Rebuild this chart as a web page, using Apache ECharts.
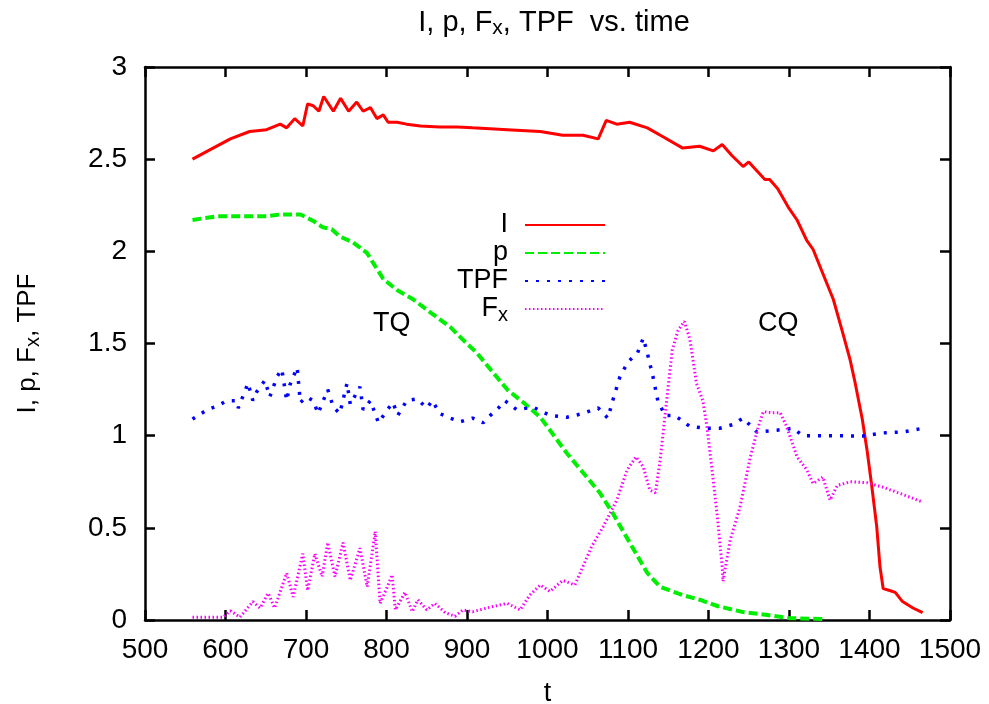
<!DOCTYPE html>
<html>
<head>
<meta charset="utf-8">
<script src="https://cdn.jsdelivr.net/npm/echarts@6/dist/echarts.min.js"></script>
<style>
html, body { margin: 0; padding: 0; background: #fff; }
#main { width: 989px; height: 704px; }
</style>
</head>
<body>
<div id="main"></div>
<script>
// data: time values and curve values per series
var iT = [559, 606, 630, 651, 668, 676, 686, 696, 702, 709, 716, 722, 734, 743, 753, 763, 771, 780, 788, 796, 802, 813, 825, 842, 866, 888, 907, 950, 991, 1019, 1044, 1063, 1073, 1086, 1102, 1124, 1144, 1168, 1189, 1206, 1217, 1229, 1243, 1250, 1270, 1276, 1286, 1299, 1310, 1322, 1330, 1342, 1355, 1366, 1376, 1382, 1391, 1397, 1403, 1409, 1413, 1417, 1425, 1432, 1441, 1454, 1466];
var iV = [2.50, 2.61, 2.65, 2.66, 2.69, 2.67, 2.72, 2.68, 2.80, 2.79, 2.76, 2.84, 2.76, 2.83, 2.76, 2.81, 2.76, 2.78, 2.72, 2.74, 2.70, 2.70, 2.69, 2.68, 2.675, 2.675, 2.67, 2.66, 2.65, 2.63, 2.63, 2.61, 2.71, 2.69, 2.70, 2.67, 2.62, 2.56, 2.57, 2.545, 2.58, 2.52, 2.46, 2.485, 2.39, 2.39, 2.34, 2.24, 2.17, 2.06, 2.01, 1.88, 1.74, 1.57, 1.41, 1.29, 1.09, 0.92, 0.72, 0.505, 0.29, 0.17, 0.16, 0.15, 0.10, 0.065, 0.04];

var pT = [559, 589, 618, 651, 668, 693, 709, 721, 732, 742, 758, 776, 783, 796, 813, 833, 854, 879, 895, 912, 929, 950, 970, 991, 1003, 1024, 1044, 1065, 1081, 1102, 1124, 1140, 1168, 1189, 1211, 1243, 1273, 1301, 1342];
var pV = [2.17, 2.19, 2.19, 2.19, 2.20, 2.20, 2.165, 2.13, 2.12, 2.08, 2.05, 1.99, 1.94, 1.85, 1.79, 1.74, 1.67, 1.59, 1.52, 1.45, 1.36, 1.25, 1.18, 1.10, 1.03, 0.905, 0.80, 0.69, 0.58, 0.42, 0.255, 0.18, 0.135, 0.11, 0.076, 0.043, 0.027, 0.01, 0.005];

var tpfT = [559, 577, 589, 602, 614, 616, 628, 634, 639, 649, 655, 664, 670, 676, 680, 689, 693, 701, 709, 715, 727, 734, 742, 751, 755, 767, 771, 780, 790, 801, 808, 814, 825, 838, 850, 857, 866, 879, 891, 907, 920, 929, 939, 947, 962, 982, 1003, 1024, 1044, 1063, 1075, 1081, 1090, 1100, 1112, 1119, 1125, 1131, 1137, 1146, 1158, 1177, 1198, 1214, 1230, 1243, 1260, 1285, 1305, 1317, 1355, 1392, 1417, 1442, 1466];
var tpfV = [1.09, 1.14, 1.16, 1.19, 1.19, 1.15, 1.285, 1.19, 1.24, 1.30, 1.21, 1.32, 1.36, 1.19, 1.275, 1.37, 1.18, 1.21, 1.19, 1.12, 1.25, 1.155, 1.12, 1.285, 1.17, 1.265, 1.14, 1.19, 1.07, 1.14, 1.18, 1.11, 1.19, 1.20, 1.15, 1.19, 1.12, 1.095, 1.075, 1.095, 1.07, 1.11, 1.15, 1.19, 1.14, 1.155, 1.11, 1.10, 1.12, 1.15, 1.095, 1.19, 1.32, 1.40, 1.45, 1.53, 1.43, 1.32, 1.19, 1.11, 1.11, 1.05, 1.04, 1.04, 1.06, 1.095, 1.02, 1.03, 1.04, 1.00, 1.00, 0.998, 1.015, 1.02, 1.04];

var fxT = [559, 597, 606, 618, 634, 643, 653, 661, 676, 684, 696, 702, 711, 720, 727, 736, 746, 755, 767, 776, 786, 792, 801, 807, 811, 823, 832, 839, 850, 860, 873, 885, 895, 907, 929, 950, 966, 978, 991, 1003, 1019, 1034, 1044, 1055, 1069, 1086, 1099, 1110, 1119, 1127, 1134, 1140, 1148, 1155, 1162, 1170, 1177, 1185, 1193, 1198, 1204, 1211, 1217, 1218, 1227, 1239, 1252, 1262, 1268, 1279, 1289, 1297, 1310, 1322, 1330, 1342, 1351, 1360, 1376, 1397, 1417, 1442, 1466];
var fxV = [0.015, 0.015, 0.05, 0.015, 0.10, 0.065, 0.145, 0.065, 0.255, 0.125, 0.36, 0.16, 0.36, 0.235, 0.42, 0.235, 0.42, 0.215, 0.39, 0.18, 0.48, 0.09, 0.18, 0.245, 0.055, 0.15, 0.045, 0.11, 0.055, 0.09, 0.04, 0.02, 0.055, 0.045, 0.07, 0.09, 0.055, 0.135, 0.19, 0.155, 0.215, 0.19, 0.29, 0.40, 0.505, 0.65, 0.815, 0.885, 0.83, 0.705, 0.69, 0.87, 1.19, 1.465, 1.57, 1.62, 1.52, 1.285, 1.19, 1.05, 0.83, 0.56, 0.29, 0.21, 0.435, 0.61, 0.885, 1.05, 1.13, 1.125, 1.125, 1.05, 0.885, 0.815, 0.74, 0.775, 0.65, 0.73, 0.75, 0.745, 0.72, 0.68, 0.64];

var seriesNames = ['I', 'p', 'TPF', 'Fx'];

function pairs(t, v) {
    var out = [];
    for (var i = 0; i < t.length; i++) out.push([t[i], v[i]]);
    return out;
}

var font = 'Liberation Sans, Arial, sans-serif';
var myChart = echarts.init(document.getElementById('main'));

// rich styles for F with subscript x
function subStyle(size, subSize, drop) {
    return {
        n: { fontSize: size, fontFamily: font, fontWeight: 'normal', color: '#000' },
        s: { fontSize: subSize, fontFamily: font, fontWeight: 'normal', color: '#000', padding: [drop, 0, 0, 0] }
    };
}

function frameAxis(pos, isX) {
    return {
        type: 'value',
        position: pos,
        min: isX ? 500 : 0,
        max: isX ? 1500 : 3,
        interval: isX ? 100 : 0.5,
        axisLine: { show: true, onZero: false, lineStyle: { color: '#000', width: 2.5 } },
        axisTick: { show: true, inside: true, length: 10, lineStyle: { color: '#000', width: 2.5 } },
        axisLabel: { show: false },
        splitLine: { show: false }
    };
}

var xBottom = frameAxis('bottom', true);
xBottom.axisLabel = {
    show: true, fontSize: 28, fontFamily: font, color: '#000', margin: 16,
    formatter: function (v) { return String(v); }
};
xBottom.name = 't';
xBottom.nameLocation = 'middle';
xBottom.nameGap = 60;
xBottom.nameTextStyle = { fontSize: 27, fontFamily: font, color: '#000' };

var yLeft = frameAxis('left', false);
yLeft.axisLabel = { show: true, fontSize: 28, fontFamily: font, color: '#000', margin: 18 };
yLeft.name = '{n|I, p, F}{s|x}{n|, TPF}';
yLeft.nameLocation = 'middle';
yLeft.nameGap = 102;
yLeft.nameTextStyle = { rich: subStyle(26, 20, 11) };

var option = {
    backgroundColor: '#fff',
    animation: false,
    title: {
        text: '{n|I, p, F}{s|x}{n|, TPF  vs. time}',
        left: 549,
        textAlign: 'center',
        top: 1,
        textStyle: { fontWeight: 'normal', rich: subStyle(29, 21, 12) }
    },
    grid: { left: 145, right: 39, top: 67, bottom: 84, outerBoundsMode: 'none' },
    legend: {
        data: seriesNames,
        orient: 'vertical',
        align: 'right',
        right: 378,
        top: 206,
        itemWidth: 80,
        itemHeight: 14,
        itemGap: 0,
        itemStyle: { opacity: 0 },
        formatter: function (name) {
            if (name === 'Fx') return '{n|F}{s|x}';
            return '{n|' + name + '}';
        },
        textStyle: { padding: [0, 12, 0, 0], lineHeight: 28, rich: subStyle(27, 20, 12) }
    },
    xAxis: [xBottom, frameAxis('top', true)],
    yAxis: [yLeft, frameAxis('right', false)],
    graphic: [
        { type: 'text', left: 373, top: 310, style: { text: 'TQ', fontSize: 27, fontFamily: font, fill: '#000' } },
        { type: 'text', left: 758, top: 310, style: { text: 'CQ', fontSize: 27, fontFamily: font, fill: '#000' } }
    ],
    series: [{
        name: 'I', type: 'line', symbol: 'none',
        data: pairs(iT, iV),
        lineStyle: { color: '#ff0000', width: 3 }, itemStyle: { color: '#ff0000' }
    }, {
        name: 'p', type: 'line', symbol: 'none',
        data: pairs(pT, pV),
        lineStyle: { color: '#00ee00', width: 4, type: [9, 4] }, itemStyle: { color: '#00ee00' }
    }, {
        name: 'TPF', type: 'line', symbol: 'none',
        data: pairs(tpfT, tpfV),
        lineStyle: { color: '#0000ff', width: 3.5, type: [3, 8] }, itemStyle: { color: '#0000ff' }
    }, {
        name: 'Fx', type: 'line', symbol: 'none',
        data: pairs(fxT, fxV),
        lineStyle: { color: '#ff00ff', width: 3, type: [1.5, 2.5] }, itemStyle: { color: '#ff00ff' }
    }]
};
myChart.setOption(option);
</script>
</body>
</html>
